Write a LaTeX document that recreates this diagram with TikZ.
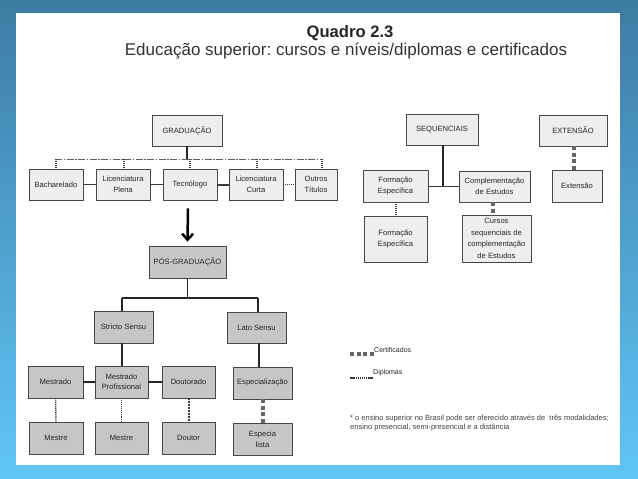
\documentclass[tikz,border=0pt]{standalone}
\usepackage{fontspec}
\setmainfont{Liberation Sans}
\usetikzlibrary{arrows.meta}
\definecolor{bgtop}{HTML}{3E7BA4}
\definecolor{bgbot}{HTML}{60C6F6}
\definecolor{boxline}{HTML}{474747}
\definecolor{lightfill}{HTML}{EEEEEE}
\definecolor{darkfill}{HTML}{C6C6C6}
\definecolor{txt}{HTML}{262626}
\definecolor{certcol}{HTML}{666666}
\definecolor{diplcol}{HTML}{3A3A3A}
\frenchspacing
\begin{document}
\begin{tikzpicture}[x=1pt,y=-1pt,
  box/.style={draw=boxline, line width=0.9pt, text=txt, align=center, inner sep=1pt, font=\fontsize{7.6}{10.5}\selectfont},
  lbox/.style={box, fill=lightfill},
  dbox/.style={box, fill=darkfill},
  sz/.style 2 args={minimum width=#1pt, minimum height=#2pt},
  thinline/.style={draw=diplcol, line width=1pt},
  boldline/.style={draw=black!85, line width=1.6pt},
  diploma/.style={draw=diplcol, line width=1.5pt, dash pattern=on 1pt off 0.9pt},
  cert/.style={draw=certcol, line width=4pt, dash pattern=on 4pt off 2.5pt},
  dashdotline/.style={draw=diplcol!80, line width=1pt, dash pattern=on 7pt off 1.5pt on 1.5pt off 1.5pt},
  legdipl/.style={draw=diplcol, line width=1.6pt, dash pattern=on 5pt off 1pt on 1pt off 1pt on 1pt off 1pt on 1pt off 1pt on 1pt off 1pt on 1pt off 1pt on 1pt off 1pt on 5pt off 20pt},
  bigarrow/.style={draw=black, line width=2.5pt, -{Straight Barb[length=6pt, width=11pt, line width=2.5pt]}},
  small/.style={inner sep=0pt, text=txt, font=\fontsize{7}{8}\selectfont},
  note/.style={inner sep=0pt, text=black!75, font=\fontsize{7.5}{9}\selectfont}
]
\useasboundingbox (0,0) rectangle (638,479);
\fill[top color=bgtop, bottom color=bgbot] (0,0) rectangle (638,479);
\fill[white] (16,13) rectangle (620,465);

% titles
\node[anchor=base, inner sep=0pt, font=\bfseries\fontsize{16.6}{19}\selectfont, text=black!85] (title) at (350,37) {Quadro 2.3};
\node[anchor=base, inner sep=0pt, font=\fontsize{17}{20}\selectfont, text=black!80] (sub) at (346,56) {Educação superior: cursos e níveis/diplomas e certificados};

% graduação
\node[lbox, sz={70}{31}] (grad) at (187,130.5) {GRADUAÇÃO};
\node[lbox, sz={54}{31}] (bach) at (56,184.5) {Bacharelado};
\node[lbox, sz={54}{31}] (licp) at (123,184.5) {Licenciatura\\Plena};
\node[lbox, sz={54}{31}] (tecn) at (190,184.5) {Tecnólogo};
\node[lbox, sz={54}{31}] (licc) at (256,184.5) {Licenciatura\\Curta};
\node[lbox, sz={42}{31}] (outr) at (316,184.5) {Outros\\Títulos};

\coordinate (hl) at (55,159);
\coordinate (hr) at (322,159);
\coordinate (h1) at (56,159);
\coordinate (h2) at (124,159);
\coordinate (h3) at (190,159);
\coordinate (h4) at (257,159);
\coordinate (h5) at (322,159);
\draw[dashdotline] (hl) -- (hr);
\draw[boldline, line width=1.2pt] (grad.south) -- (grad.south |- hl);
\draw[diploma] (h1) -- (h1 |- bach.north);
\draw[diploma] (h2) -- (h2 |- licp.north);
\draw[diploma] (h3) -- (h3 |- tecn.north);
\draw[diploma] (h4) -- (h4 |- licc.north);
\draw[diploma] (h5) -- (h5 |- outr.north);
\draw[thinline] (bach.east) -- (licp.west);
\draw[thinline] (licp.east) -- (tecn.west);
\draw[thinline, line width=2pt] (tecn.east) -- (licc.west);
\draw[diploma] (licc.east) -- (outr.west);

% pós-graduação
\node[dbox, sz={77}{32}] (pos) at (187.5,262) {PÓS-GRADUAÇÃO};
\draw[bigarrow] ([xshift=-2pt,yshift=-8pt]tecn.south) -- ([yshift=4pt]pos.north);
\node[dbox, sz={59}{32}] (stri) at (123.5,327) {Stricto Sensu};
\node[dbox, sz={59}{31}] (lato) at (256.5,327.5) {Lato Sensu};
\coordinate (pj) at (187.5,298);
\coordinate (pl) at (122,298);
\coordinate (pr) at (258,298);
\draw[boldline] (pos.south) -- (pj);
\draw[boldline] (pl) -- (pr);
\draw[boldline] (pl) -- (pl |- stri.north);
\draw[boldline] (pr) -- (pr |- lato.north);

\node[dbox, sz={55}{32}] (mest) at (55.5,382) {Mestrado};
\node[dbox, sz={53}{32}] (mprof) at (121.5,382) {Mestrado\\Profissional};
\node[dbox, sz={53}{32}] (dout) at (188.5,382) {Doutorado};
\node[dbox, sz={59}{32}] (espz) at (262.5,383) {Especialização};
\node[dbox, sz={54}{32}] (mestre1) at (56,438) {Mestre};
\node[dbox, sz={53}{32}] (mestre2) at (121.5,438) {Mestre};
\node[dbox, sz={53}{32}] (doutor) at (188.5,438) {Doutor};
\node[dbox, sz={59}{32}, font=\fontsize{7.6}{11}\selectfont] (espl) at (262.5,439) {Especia\\lista};

\coordinate (sb) at (122,343);
\coordinate (lb) at (259,343);
\draw[boldline] (sb) -- (sb |- mprof.north);
\draw[boldline] (lb) -- (lb |- espz.north);
\draw[boldline] (mest.east) -- (mprof.west);
\draw[boldline] (mprof.east) -- (dout.west);
\draw[diploma] (mest.south) -- (mestre1.north);
\draw[diploma] (mprof.south) -- (mestre2.north);
\draw[diploma, line width=2pt, dash pattern=on 2pt off 1pt] (dout.south) -- (doutor.north);
\draw[cert] (espz.south) -- (espl.north);

% sequenciais
\node[lbox, sz={72}{31}] (seq) at (442,129.5) {SEQUENCIAIS};
\node[lbox, sz={68}{31}] (ext) at (573,130.5) {EXTENSÃO};
\node[lbox, sz={65}{32}] (form1) at (395.5,186) {Formação\\Específica};
\node[lbox, sz={71}{31}] (comp) at (494.5,186.5) {Complementação\\de Estudos};
\node[lbox, sz={50}{32}] (extb) at (577,186) {Extensão};
\node[lbox, sz={63}{46}] (form2) at (395.5,239) {Formação\\Específica};
\node[lbox, sz={69}{47}, font=\fontsize{7.6}{11.7}\selectfont] (curs) at (496.5,238.5) {Cursos\\sequenciais de\\complementação\\de Estudos};

\coordinate (sj) at (443,186);
\draw[thinline] (form1.east) -- (form1.east -| comp.west);
\draw[boldline, line width=1.3pt] (seq.south -| sj) -- (sj);
\draw[diploma, line width=2pt] (form1.south) -- (form1.south |- form2.north);
\coordinate (cx) at (493,202);
\draw[cert] (cx) -- (cx |- curs.north);
\coordinate (ex) at (574,146);
\draw[cert] (ex) -- (ex |- extb.north);

% legend
\coordinate (c1) at (350,354);
\coordinate (c2) at (374,354);
\draw[cert] (c1) -- (c2);
\node[small, anchor=base west] (certt) at (374,352.5) {Certificados};
\coordinate (d1) at (350,378);
\coordinate (d2) at (373,378);
\draw[legdipl] (d1) -- (d2);
\node[small, anchor=base west] (diplt) at (373,374.5) {Diplomas};

% note
\node[note, anchor=base west] (n1) at (350,420.5) {* o ensino superior no Brasil pode ser oferecido através de\ \ três modalidades;};
\node[note, anchor=base west] (n2) at (350,429.5) {ensino presencial, semi-presencial e a distância};
\end{tikzpicture}
\end{document}
